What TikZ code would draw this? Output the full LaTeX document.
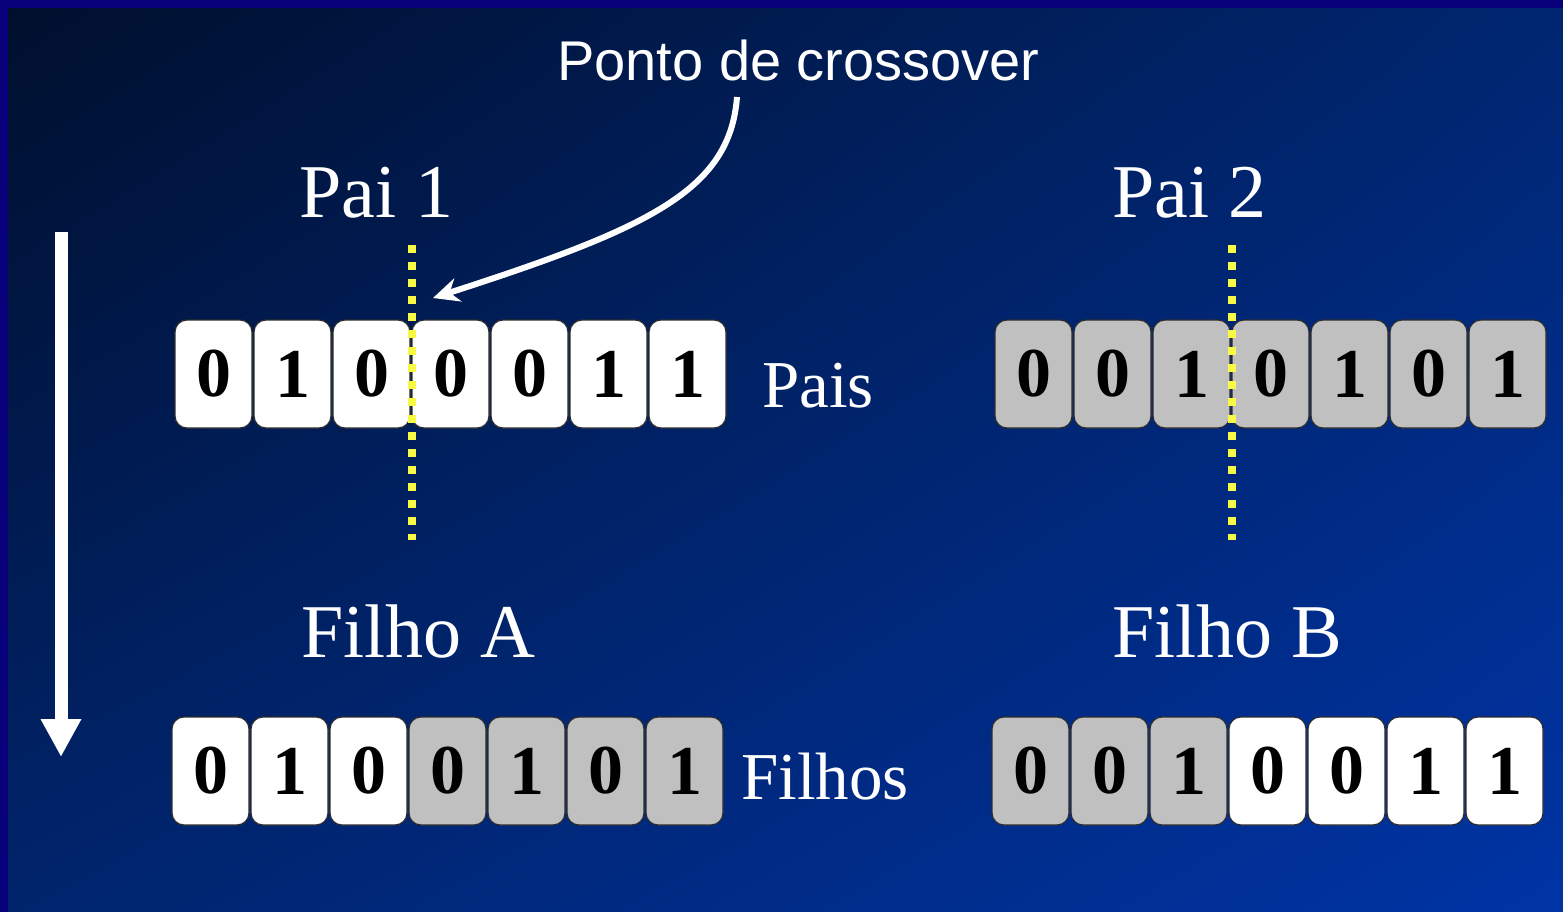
\documentclass[tikz,border=0pt]{standalone}
\usepackage{fontspec}
\setmainfont{Liberation Serif}
\newfontfamily\arialfont{Liberation Sans}
\usetikzlibrary{arrows.meta,shadings}

\definecolor{framenavy}{RGB}{8,0,122}
\definecolor{bgtl}{RGB}{0,15,44}
\definecolor{bgtr}{RGB}{0,38,112}
\definecolor{bgbl}{RGB}{0,36,108}
\definecolor{bgbr}{RGB}{0,52,165}
\definecolor{cellgray}{RGB}{192,192,192}
\definecolor{celledge}{RGB}{45,45,45}
\definecolor{cutyellow}{RGB}{248,248,70}

\tikzset{
  bit/.style={draw=celledge, line width=1.2pt, rounded corners=12pt,
    minimum width=77pt, minimum height=108pt, inner sep=0pt,
    font=\fontsize{70}{72}\selectfont\bfseries, text=black},
  white bit/.style={bit, fill=white},
  gray bit/.style={bit, fill=cellgray},
  title/.style={anchor=base west, text=white, inner sep=0pt,
    font=\fontsize{76}{80}\selectfont},
  tag/.style={anchor=base west, text=white, inner sep=0pt,
    font=\fontsize{67}{70}\selectfont},
  cutline/.style={draw=cutyellow, line width=8pt, dash pattern=on 8pt off 9pt},
  pointer/.style={draw=white, line width=6pt, -{Stealth[length=26pt,width=24pt]}},
  flow/.style={draw=white, line width=13pt, -{Triangle[length=38pt,width=38pt]}},
}

\begin{document}
\begin{tikzpicture}[x=1pt,y=-1pt]
\useasboundingbox (0,0) rectangle (1563,912);

% background with diagonal gradient and navy frame on top/left
\shade[upper left=bgtl, upper right=bgtr, lower left=bgbl, lower right=bgbr]
  (0,0) rectangle (1563,912);
\fill[framenavy] (0,0) rectangle (1563,8);
\fill[framenavy] (0,0) rectangle (8,912);

% headings
\node[title] (pai1) at (299,218) {Pai 1};
\node[title] (pai2) at (1112,218) {Pai 2};
\node[title] (filhoA) at (301,657) {Filho A};
\node[title] (filhoB) at (1112,657) {Filho B};
\node[tag] (pais) at (762,407) {Pais};
\node[tag] (filhos) at (741,799) {Filhos};
\node[anchor=base west, text=white, inner sep=0pt,
  font=\arialfont\fontsize{56}{60}\selectfont] (ponto) at (557,81) {Ponto de crossover};

% chromosomes
\foreach \d/\s [count=\i from 0] in {0/white,1/white,0/white,0/white,0/white,1/white,1/white}
  \node[\s\space bit] (pa-\i) at ({213.5+79*\i},374) {\d};
\foreach \d/\s [count=\i from 0] in {0/gray,0/gray,1/gray,0/gray,1/gray,0/gray,1/gray}
  \node[\s\space bit] (pb-\i) at ({1033.5+79*\i},374) {\d};
\foreach \d/\s [count=\i from 0] in {0/white,1/white,0/white,0/gray,1/gray,0/gray,1/gray}
  \node[\s\space bit] (fa-\i) at ({210.5+79*\i},771) {\d};
\foreach \d/\s [count=\i from 0] in {0/gray,0/gray,1/gray,0/white,0/white,1/white,1/white}
  \node[\s\space bit] (fb-\i) at ({1030.5+79*\i},771) {\d};

% crossover cut lines
\coordinate (cutA-top) at (412,245);
\coordinate (cutA-bot) at (412,540);
\coordinate (cutB-top) at (1232,245);
\coordinate (cutB-bot) at (1232,540);
\draw[cutline] (cutA-top) -- (cutA-bot);
\draw[cutline] (cutB-top) -- (cutB-bot);

% pointer from the label to the cut point
\coordinate (ptr-start) at (737,97);
\coordinate (ptr-end) at (433,298);
\draw[pointer] (ptr-start) .. controls (730,190) and (650,228) .. (ptr-end);

% downward flow arrow
\coordinate (flow-top) at (61,232);
\coordinate (flow-end) at (61,757);
\draw[flow] (flow-top) -- (flow-end);
\end{tikzpicture}
\end{document}
